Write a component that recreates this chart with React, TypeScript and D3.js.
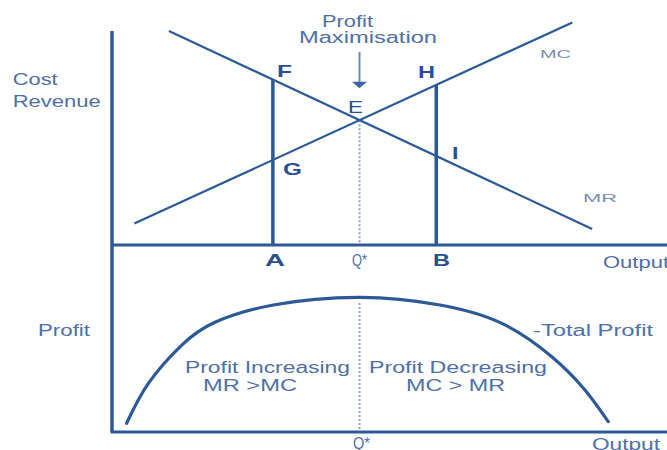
import React from 'react';
import * as d3 from 'd3';

const W = 667;
const H = 450;

// Output levels marked on the horizontal axis
const qA = 6.5;
const qStar = 10;
const qB = 13.1;

// Marginal revenue (falling) and marginal cost (rising): [output], [cost / revenue]
const mrOutput = [2.3, 19.4];
const mrValue = [10, 0.75];
const mcOutput = [0.9, 18.6];
const mcValue = [1, 10.4];

// Total profit against output
const profitOutput = [0.59, 1.47, 2.82, 4.16, 6.52, 10.02, 13.25, 15.75, 17.77, 19.11, 20.05];
const profitValue = [0.65, 3.63, 6.49, 8.19, 9.48, 10.05, 9.48, 8.11, 5.62, 3.13, 0.77];

const LINE = '#2d5a97';
const BOLD = '#2a5090';
const SOFT = '#4f70a5';
const FAINT = '#7b8fb0';
const DOTS = '#8ea6ca';
const FONT = '"Liberation Sans", Arial, sans-serif';

type Label = {
  text: string;
  x: number;
  y: number;
  len: number;
  size?: number;
  bold?: boolean;
  color?: string;
};

const labels: Label[] = [
  { text: 'Cost', x: 12.7, y: 85, len: 45 },
  { text: 'Revenue', x: 12.7, y: 107, len: 88 },
  { text: 'Profit', x: 322, y: 27, len: 51 },
  { text: 'Maximisation', x: 299, y: 43, len: 138 },
  { text: 'MC', x: 540, y: 58, len: 31, size: 11, color: FAINT },
  { text: 'MR', x: 583, y: 202, len: 34, size: 11, color: FAINT },
  { text: 'F', x: 277, y: 77, len: 15, size: 17, bold: true, color: BOLD },
  { text: 'E', x: 348, y: 113, len: 15, size: 16, color: BOLD },
  { text: 'H', x: 418, y: 78, len: 17, size: 17, bold: true, color: BOLD },
  { text: 'I', x: 452, y: 159, len: 6.5, size: 17, bold: true, color: BOLD },
  { text: 'G', x: 283, y: 175, len: 19, size: 17, bold: true, color: BOLD },
  { text: 'A', x: 265, y: 266, len: 20, size: 17, bold: true, color: BOLD },
  { text: 'Q*', x: 352, y: 266, len: 15 },
  { text: 'B', x: 433, y: 266, len: 17, size: 17, bold: true, color: BOLD },
  { text: 'Output', x: 603, y: 268, len: 66 },
  { text: 'Profit', x: 38, y: 336, len: 52 },
  { text: 'Profit Increasing', x: 185, y: 372.7, len: 165 },
  { text: 'MR >MC', x: 203, y: 390.7, len: 94 },
  { text: 'Profit Decreasing', x: 369, y: 373, len: 178 },
  { text: 'MC > MR', x: 406, y: 391, len: 99 },
  { text: '-Total Profit', x: 533, y: 336, len: 120 },
  { text: 'Q*', x: 353, y: 449, len: 17 },
  { text: 'Output', x: 592, y: 450, len: 68 },
];

export default function App() {
  const x = d3.scaleLinear().domain([0, 22.4]).range([112, 666.4]);
  const yTop = d3.scaleLinear().domain([0, 10]).range([245, 31]);
  const yBot = d3.scaleLinear().domain([0, 10]).range([432, 298]);

  const mr = d3.scaleLinear().domain(mrOutput).range(mrValue);
  const mc = d3.scaleLinear().domain(mcOutput).range(mcValue);

  const straight = d3
    .line<[number, number]>()
    .x((d) => x(d[0]))
    .y((d) => yTop(d[1]));

  const mrPath = straight(mrOutput.map((q, i) => [q, mrValue[i]] as [number, number]));
  const mcPath = straight(mcOutput.map((q, i) => [q, mcValue[i]] as [number, number]));

  const profitPath = d3
    .line<[number, number]>()
    .x((d) => x(d[0]))
    .y((d) => yBot(d[1]))
    .curve(d3.curveNatural)(
    profitOutput.map((q, i) => [q, profitValue[i]] as [number, number])
  );

  const xA = x(qA);
  const xB = x(qB);
  const xS = x(qStar);
  const yE = yTop(mr(qStar));

  // arrow pointing down to the profit-maximising point
  const arrowTop = 52;
  const arrowTip = yE - 32;

  return (
    <svg
      width={W}
      height={H}
      style={{ position: 'absolute', left: 0, top: 0, background: '#fff' }}
      fontFamily={FONT}
    >
      <rect width={W} height={H} fill="#fff" />

      {/* dotted guides at Q* */}
      <line x1={xS} x2={xS} y1={yE} y2={yTop(0)} stroke={DOTS} strokeWidth={2} strokeDasharray="2 2" />
      <line x1={xS} x2={xS} y1={303} y2={yBot(0)} stroke={DOTS} strokeWidth={2} strokeDasharray="2 2" />

      {/* MR and MC */}
      <path d={mrPath ?? ''} fill="none" stroke={LINE} strokeWidth={2.2} />
      <path d={mcPath ?? ''} fill="none" stroke={LINE} strokeWidth={2.2} />

      {/* output A and B */}
      <line x1={xA} x2={xA} y1={yTop(mr(qA))} y2={yTop(0)} stroke={LINE} strokeWidth={3.5} />
      <line x1={xB} x2={xB} y1={yTop(mc(qB))} y2={yTop(0)} stroke={LINE} strokeWidth={3.5} />

      {/* total profit */}
      <path d={profitPath ?? ''} fill="none" stroke={LINE} strokeWidth={3.2} strokeLinecap="round" />

      {/* axes */}
      <line x1={x(0)} x2={x(0)} y1={yTop(10)} y2={yBot(0)} stroke={LINE} strokeWidth={3.5} />
      <line x1={x(0)} x2={W} y1={yTop(0)} y2={yTop(0)} stroke={LINE} strokeWidth={3} />
      <line x1={x(0) - 1.5} x2={W} y1={yBot(0)} y2={yBot(0)} stroke={LINE} strokeWidth={3} />

      {/* arrow */}
      <line x1={xS} x2={xS} y1={arrowTop} y2={arrowTip - 5} stroke="#6a8bbd" strokeWidth={2} />
      <path
        d={`M${xS - 7.5},${arrowTip - 6.5} L${xS + 7.5},${arrowTip - 6.5} L${xS},${arrowTip} Z`}
        fill="#3f66a0"
      />

      {labels.map((l, i) => (
        <text
          key={i}
          x={l.x}
          y={l.y}
          fontSize={l.size ?? 16}
          fontWeight={l.bold ? 'bold' : 'normal'}
          fill={l.color ?? SOFT}
          textLength={l.len}
          lengthAdjust="spacingAndGlyphs"
        >
          {l.text}
        </text>
      ))}
    </svg>
  );
}
